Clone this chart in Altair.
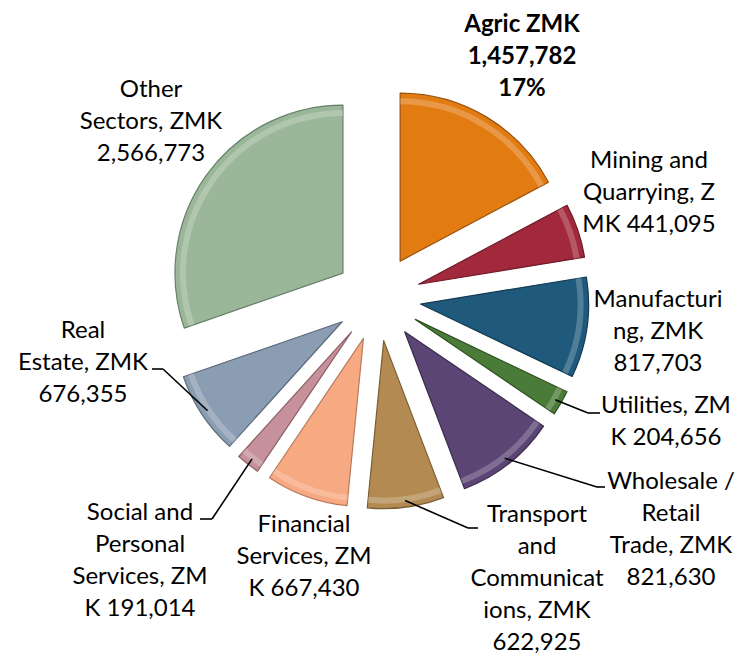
import altair as alt
import pandas as pd

# ---- data -------------------------------------------------------------
sectors = [
    "Agric", "Mining and Quarrying", "Manufacturing", "Utilities",
    "Wholesale / Retail Trade", "Transport and Communications",
    "Financial Services", "Social and Personal Services", "Real Estate",
    "Other Sectors",
]
values = [1457782, 441095, 817703, 204656, 821630, 622925, 667430, 191014, 676355, 2566773]
labels = [
    "Agric ZMK\n1,457,782\n17%",
    "Mining and\nQuarrying, Z\nMK 441,095",
    "Manufacturi\nng, ZMK\n817,703",
    "Utilities, ZM\nK 204,656",
    "Wholesale /\nRetail\nTrade, ZMK\n821,630",
    "Transport\nand\nCommunicat\nions, ZMK\n622,925",
    "Financial\nServices, ZM\nK 667,430",
    "Social and\nPersonal\nServices, ZM\nK 191,014",
    "Real\nEstate, ZMK\n676,355",
    "Other\nSectors, ZMK\n2,566,773",
]

# ---- styles -----------------------------------------------------------
fill_colors = ["#E27C12", "#A2283C", "#1F5A7C", "#4B7B38", "#5B4574",
               "#B38B52", "#F7A982", "#C6919A", "#8B9DB3", "#9BB799"]
edge_colors = ["#9A520A", "#6E1A28", "#123A52", "#2F5222", "#3A2C4C",
               "#7A5D34", "#B97A5C", "#8C6068", "#5D6B7C", "#66806A"]

# ---- layout (page pixels) --------------------------------------------
M = 8                      # page margin
CX, CY = 378 - M, 298 - M  # pie centre
R = 168                    # slice radius
EXPLODE = 43               # explosion distance
label_x = [522, 649, 658, 666, 671, 537, 304, 140, 83, 151]
label_y = [32, 168, 307, 413, 489, 522, 532, 520, 338, 97]
elbow_x = [None, None, None, 588, 597, 468, None, 212, 163, None]
elbow_y = [None, None, None, 413, 487, 528, None, 519, 369, None]
end_x = [None, None, None, 600, 605, 478, None, 200, 152, None]

df = pd.DataFrame({
    "order": list(range(len(sectors))),
    "sector": sectors,
    "value": values,
    "label": labels,
    "lx": [x - M for x in label_x],
    "ly": [y - M for y in label_y],
    "ex": [None if v is None else v - M for v in elbow_x],
    "ey": [None if v is None else v - M for v in elbow_y],
    "tx": [None if v is None else v - M for v in end_x],
})

base = (
    alt.Chart(df)
    .transform_window(cum="sum(value)", sort=[alt.SortField("order")], frame=[None, 0])
    .transform_joinaggregate(total="sum(value)")
    .transform_calculate(
        a1="2*PI*datum.cum/datum.total",
        a0="2*PI*(datum.cum-datum.value)/datum.total",
    )
    .transform_calculate(mid="(datum.a0+datum.a1)/2")
    .transform_calculate(
        px=f"{CX}+{EXPLODE}*sin(datum.mid)",
        py=f"{CY}-{EXPLODE}*cos(datum.mid)",
        sx=f"{CX}+({EXPLODE}+{R}*0.96)*sin(datum.mid)",
        sy=f"{CY}-({EXPLODE}+{R}*0.96)*cos(datum.mid)",
    )
)

X = lambda f: alt.X(f, type="quantitative", scale=None, axis=None)
Y = lambda f: alt.Y(f, type="quantitative", scale=None, axis=None)

slices = base.mark_arc(radius=R, strokeWidth=1.2, strokeJoin="round").encode(
    x=X("px"), y=Y("py"),
    theta=alt.Theta("a0:Q", scale=None),
    theta2="a1:Q",
    color=alt.Color("sector:N", scale=alt.Scale(domain=sectors, range=fill_colors), legend=None),
    stroke=alt.Stroke("sector:N", scale=alt.Scale(domain=sectors, range=edge_colors), legend=None),
)

# soft bevel highlight along the outer rim
rim = base.mark_arc(radius=R - 5, radius2=R - 11, fill="white", fillOpacity=0.22).encode(
    x=X("px"), y=Y("py"),
    theta=alt.Theta("a0:Q", scale=None),
    theta2="a1:Q",
)

lead = base.transform_filter("isValid(datum.ex)")
diag = lead.mark_rule(color="black", strokeWidth=1.6).encode(
    x=X("sx"), y=Y("sy"), x2="ex:Q", y2="ey:Q")
horiz = lead.mark_rule(color="black", strokeWidth=1.6).encode(
    x=X("ex"), y=Y("ey"), x2="tx:Q", y2="ey:Q")

text_kw = dict(font="Lato", fontSize=24, lineHeight=32, align="center",
               baseline="alphabetic", lineBreak="\n", color="black")
txt = base.transform_filter("datum.order != 0").mark_text(**text_kw).encode(
    x=X("lx"), y=Y("ly"), text="label:N")
txt_bold = base.transform_filter("datum.order == 0").mark_text(fontWeight="bold", **text_kw).encode(
    x=X("lx"), y=Y("ly"), text="label:N")

chart = (
    alt.layer(slices, rim, diag, horiz, txt, txt_bold)
    .properties(width=728, height=647, padding=0, autosize="none", background="white")
    .configure_view(stroke=None)
)

chart.save("out.html", embed_options={"renderer": "svg", "actions": False})
